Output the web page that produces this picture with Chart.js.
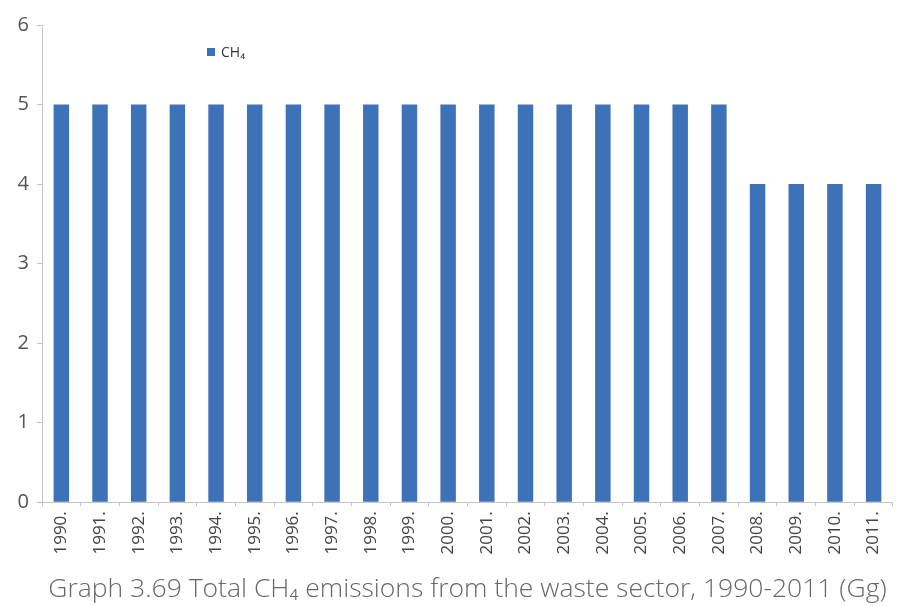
<!DOCTYPE html>
<html>
<head>
<meta charset="utf-8">
<title>CH₄ emissions from the waste sector</title>
<script src="https://cdn.jsdelivr.net/npm/chart.js@4.4.1/dist/chart.umd.min.js"></script>
<style>
  html, body { margin: 0; padding: 0; background: #ffffff; overflow: hidden; }
  #wrap { width: 899px; height: 606px; position: relative; }
</style>
</head>
<body>
<div id="wrap"><canvas id="chart" width="899" height="606"></canvas></div>
<script>
// Years shown on the horizontal axis
const years = ['1990.', '1991.', '1992.', '1993.', '1994.', '1995.', '1996.', '1997.',
  '1998.', '1999.', '2000.', '2001.', '2002.', '2003.', '2004.', '2005.', '2006.', '2007.',
  '2008.', '2009.', '2010.', '2011.'];

// Total CH4 emissions (Gg)
const ch4Values = [5, 5, 5, 5, 5, 5, 5, 5, 5, 5, 5, 5, 5, 5, 5, 5, 5, 5, 4, 4, 4, 4];

// Value axis ticks
const yTicks = [0, 1, 2, 3, 4, 5, 6];

const seriesName = 'CH₄';
const chartTitle = 'Graph 3.69 Total CH₄ emissions from the waste sector, 1990-2011 (Gg)';

const barColor = '#3d72b8';
const axisColor = '#c4c4c4';

// Small legend drawn inside the plot area, near the top left
const insideLegend = {
  id: 'insideLegend',
  afterDraw(chart) {
    const ctx = chart.ctx;
    const area = chart.chartArea;
    const x = area.left + 165;
    const y = area.top + 27;
    ctx.save();
    ctx.fillStyle = barColor;
    ctx.fillRect(x, y - 4, 8, 8);
    ctx.fillStyle = '#333333';
    ctx.font = '14px "Open Sans", sans-serif';
    ctx.textBaseline = 'middle';
    ctx.fillText(seriesName, x + 14, y + 1);
    ctx.restore();
  }
};

new Chart(document.getElementById('chart'), {
  type: 'bar',
  data: {
    labels: years,
    datasets: [{
      label: seriesName,
      data: ch4Values,
      backgroundColor: barColor,
      borderWidth: 0,
      barPercentage: 0.4,
      categoryPercentage: 1.0
    }]
  },
  options: {
    responsive: false,
    animation: false,
    layout: { padding: { top: 25, left: 0, right: 0, bottom: 1 } },
    plugins: {
      legend: { display: false },
      tooltip: { enabled: false },
      title: {
        display: true,
        position: 'bottom',
        fullSize: false,
        text: chartTitle,
        color: '#686868',
        font: { family: '"Open Sans", sans-serif', size: 26.5, weight: 300, lineHeight: 1.2 },
        padding: { top: 2, bottom: 0 }
      }
    },
    scales: {
      x: {
        grid: {
          display: true,
          drawOnChartArea: false,
          drawTicks: true,
          tickLength: 4,
          color: axisColor,
          offset: true
        },
        border: { display: true, color: axisColor, width: 1 },
        ticks: {
          color: '#444444',
          font: { family: '"Open Sans", sans-serif', size: 17 },
          minRotation: 90,
          maxRotation: 90,
          autoSkip: false,
          padding: 5
        },
        afterFit(scale) { scale.height = 69; }
      },
      y: {
        min: 0,
        max: 6,
        grid: {
          display: true,
          drawOnChartArea: false,
          drawTicks: true,
          tickLength: 5,
          color: axisColor
        },
        border: { display: true, color: axisColor, width: 1 },
        afterBuildTicks(scale) { scale.ticks = yTicks.map(v => ({ value: v })); },
        ticks: {
          color: '#555555',
          font: { family: '"Open Sans", sans-serif', size: 20 },
          padding: 8
        },
        afterFit(scale) { scale.width = 42; }
      }
    }
  },
  plugins: [insideLegend]
});
</script>
</body>
</html>
